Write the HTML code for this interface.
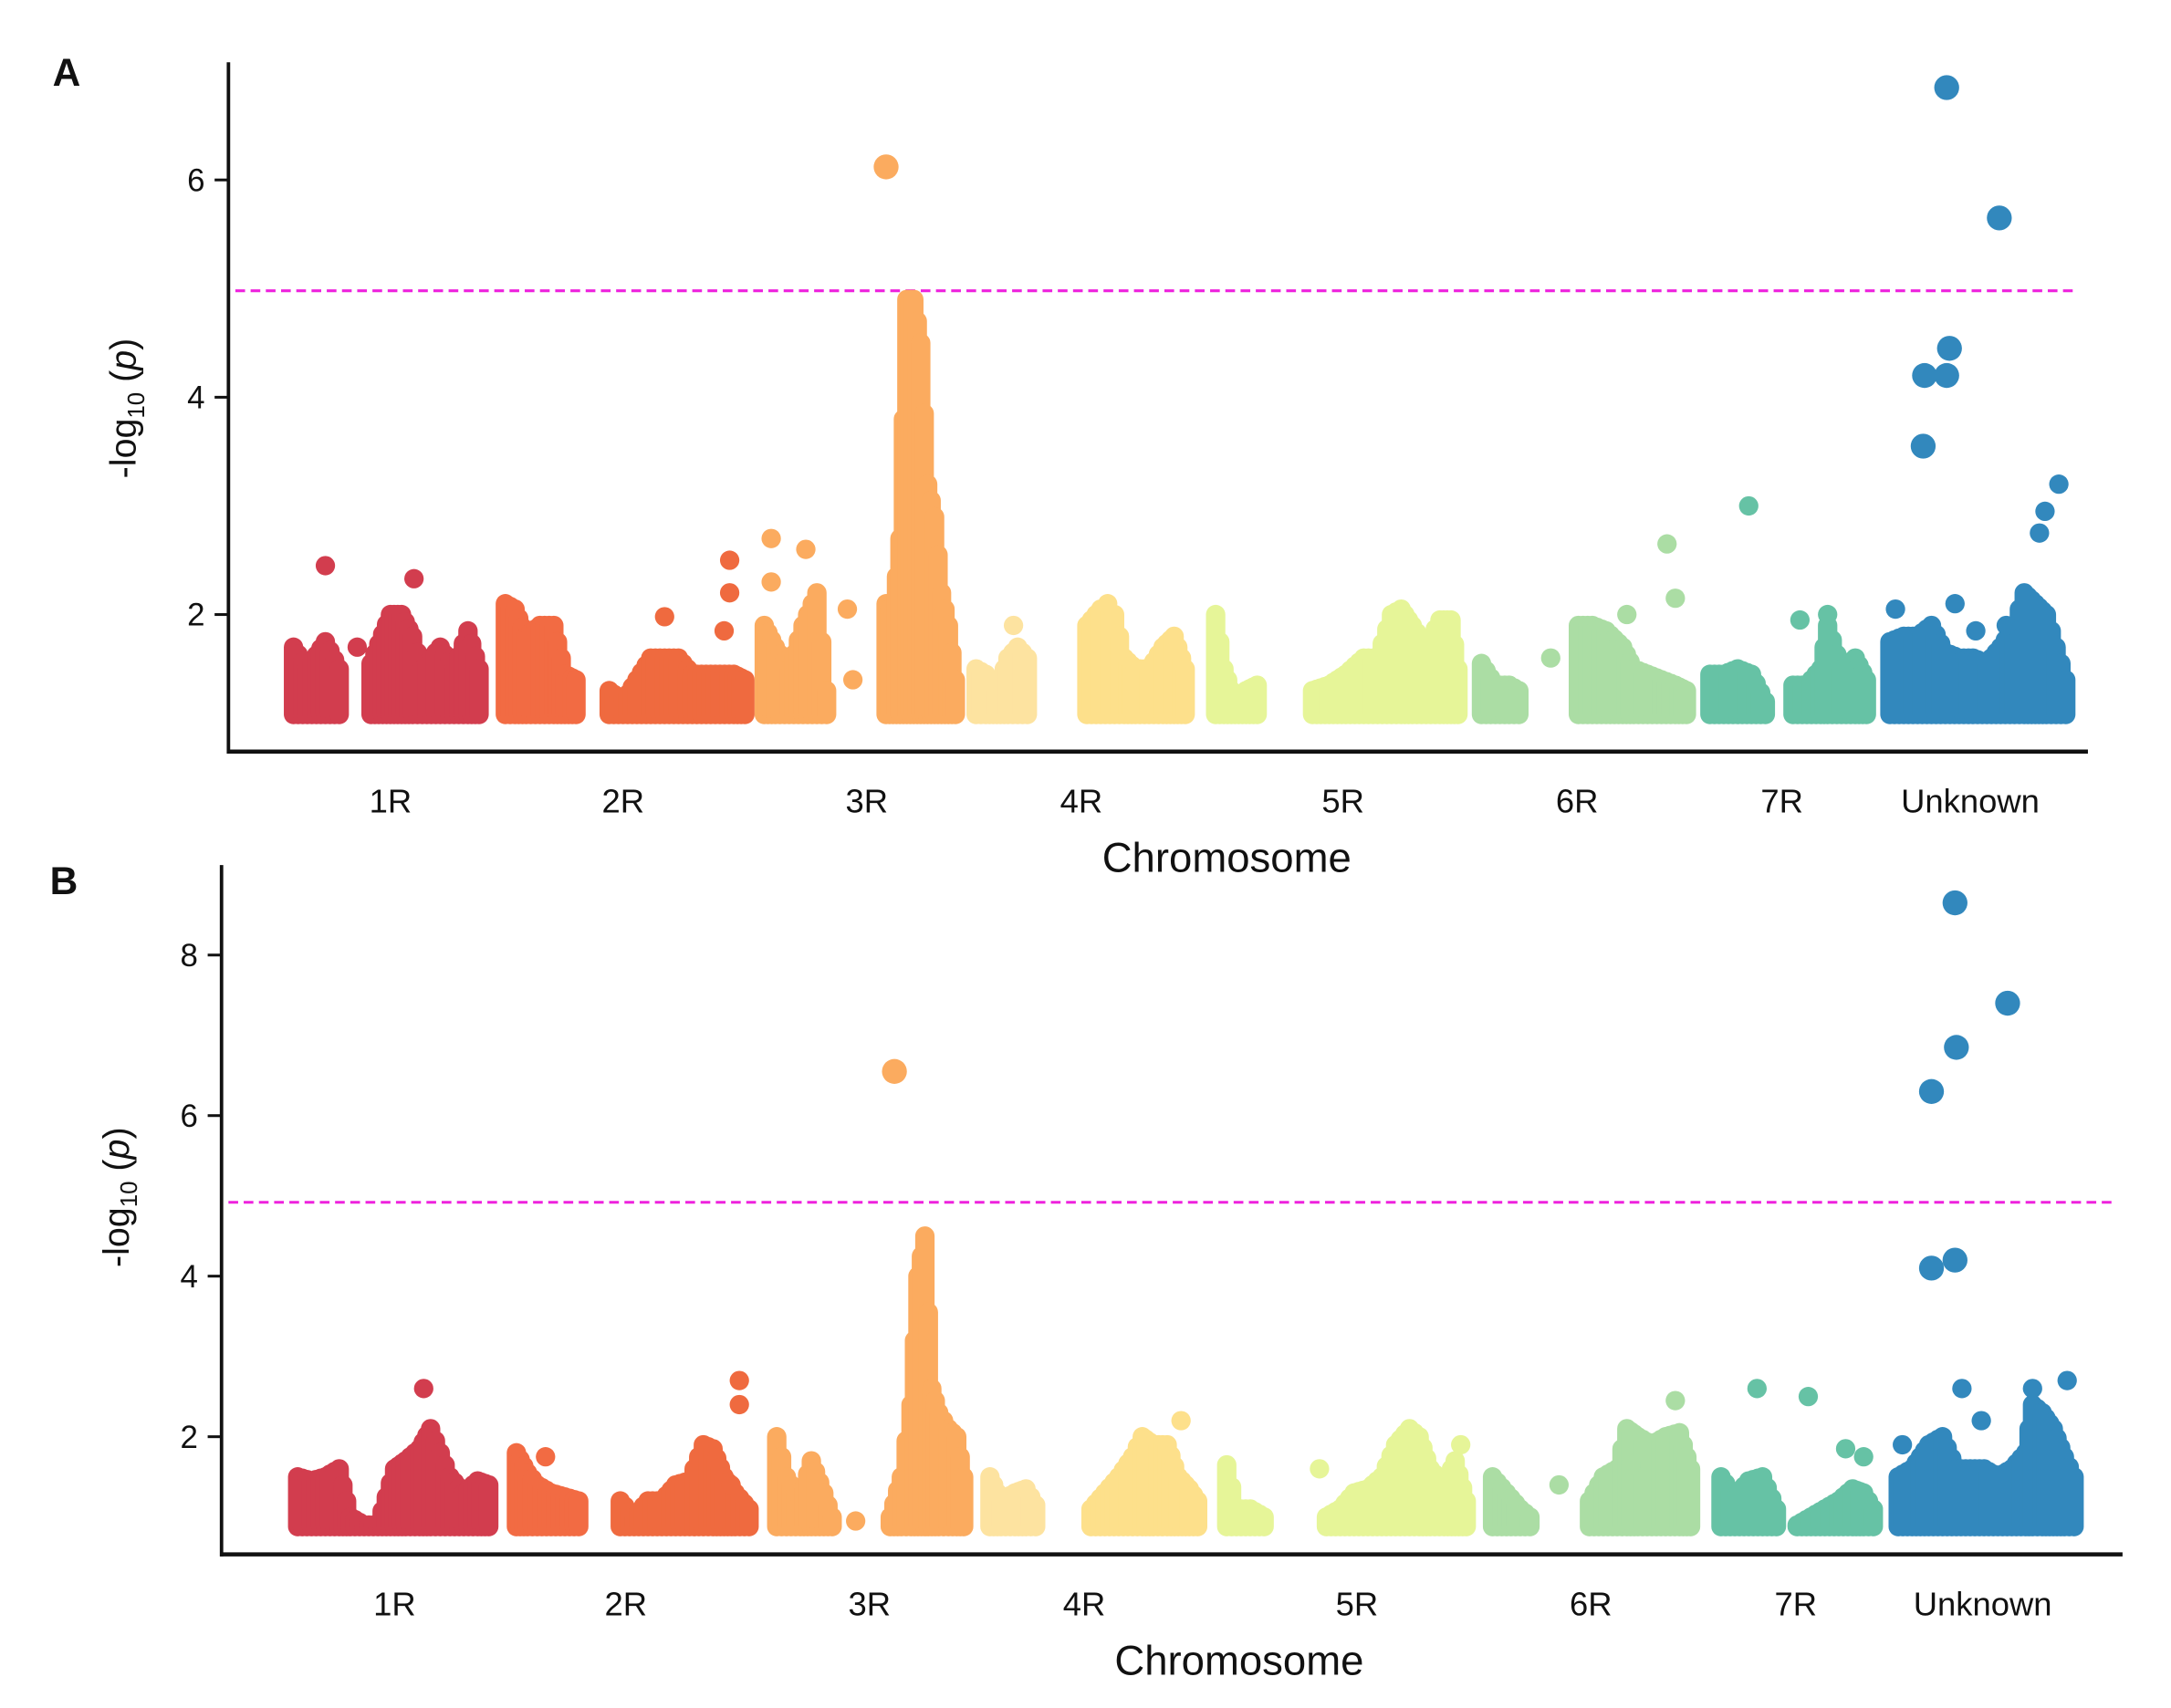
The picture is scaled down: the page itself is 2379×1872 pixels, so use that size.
<!DOCTYPE html>
<html><head><meta charset="utf-8"><title>Manhattan plots</title>
<style>html,body{margin:0;padding:0;background:#fff}svg{display:block}text{font-family:"Liberation Sans",sans-serif;fill:#111}</style>
</head><body>
<svg id="fig" width="2379" height="1872" viewBox="0 0 1568 1234" preserveAspectRatio="none" xmlns="http://www.w3.org/2000/svg">
<rect width="1568" height="1234" fill="#fff"/>
</svg>
<script>
// ---- data ----
const chromLabels = ["1R","2R","3R","4R","5R","6R","7R","Unknown"];
const chromLabelPosA = [282,450,626,781,970,1139,1287,1423];
const chromLabelPosB = [285,452,628,783,980,1149,1297,1432];
const groupColors = ["#d23d4e","#f26b43","#ef6a3f","#fbab5f","#fbab5f","#fde3a0","#fde08b","#e6f598","#e6f598","#abdda4","#abdda4","#66c2a5","#66c2a5","#3288bd"];
const yTicksA = [2,4,6];
const yTicksB = [2,4,6,8];
const thresholdA = 4.98;
const thresholdB = 4.92;
// columns: [position, top -log10 p]
const colsA = [
 [[212,1.7],[222,1.5],[235,1.75],[245,1.5]],
 [[268,1.55],[282,2.0],[290,2.0],[298,1.8],[305,1.5],[318,1.7],[328,1.5],[338,1.85],[346,1.5]],
 [[365,2.1],[372,2.05],[380,1.8],[390,1.9],[400,1.9],[408,1.45],[416,1.4]],
 [[440,1.3],[450,1.2],[460,1.4],[470,1.6],[480,1.6],[490,1.6],[500,1.45],[510,1.45],[520,1.45],[530,1.45],[538,1.4]],
 [[552,1.9],[560,1.7],[570,1.5],[580,1.9],[590,2.2],[597,1.3]],
 [[640,2.1],[645,2.0],[650,2.7],[655,4.9],[660,4.9],[665,4.5],[670,3.2],[675,2.9],[680,2.2],[685,1.9],[690,1.4]],
 [[705,1.5],[712,1.45],[720,1.3],[728,1.6],[735,1.7],[742,1.6]],
 [[785,1.9],[795,2.05],[805,2.0],[812,1.6],[820,1.5],[830,1.5],[840,1.7],[848,1.8],[856,1.5]],
 [[878,2.0],[884,1.5],[892,1.2],[900,1.3],[908,1.35]],
 [[948,1.3],[960,1.35],[972,1.45],[985,1.6],[995,1.6],[1005,2.0],[1012,2.05],[1020,1.9],[1030,1.7],[1040,1.95],[1048,1.95],[1053,1.5]],
 [[1070,1.55],[1080,1.35],[1090,1.35],[1097,1.3]],
 [[1140,1.9],[1150,1.9],[1160,1.85],[1172,1.7],[1180,1.5],[1190,1.45],[1200,1.4],[1210,1.35],[1218,1.3]],
 [[1235,1.45],[1245,1.45],[1255,1.5],[1265,1.45],[1275,1.2]],
 [[1295,1.35],[1305,1.35],[1315,1.5],[1320,1.9],[1330,1.5],[1340,1.6],[1348,1.4]],
 [[1365,1.75],[1375,1.8],[1385,1.8],[1395,1.9],[1405,1.65],[1415,1.6],[1425,1.6],[1435,1.55],[1445,1.7],[1455,1.9],[1462,2.2],[1470,2.1],[1478,2.0],[1485,1.7],[1492,1.4]]
];
const colGroupA = [0,0,1,2,3,4,5,6,7,8,9,10,11,12,13];
// outliers: [position, value, group]
const outA = [[235,2.45,0],[299,2.33,0],[258,1.7,0],[480,1.98,2],[523,1.85,2],[527,2.2,2],[527,2.5,2],[557,2.7,3],[582,2.6,3],[557,2.3,3],[612,2.05,3],[616,1.4,3],[640,6.12,4],[732,1.9,5],[800,2.1,6],[1120,1.6,10],[1175,2.0,10],[1204,2.65,10],[1210,2.15,10],[1263,3.0,11],[1300,1.95,12],[1320,2.0,12],[1406,6.85,13],[1444,5.65,13],[1408,4.45,13],[1390,4.2,13],[1406,4.2,13],[1389,3.55,13],[1487,3.2,13],[1477,2.95,13],[1473,2.75,13],[1369,2.05,13],[1412,2.1,13],[1427,1.85,13],[1449,1.9,13]];
const colsB = [
 [[212,1.5],[222,1.45],[232,1.5],[242,1.6],[250,1.0],[260,0.9],[270,0.9],[282,1.6],[290,1.7],[300,1.85],[308,2.1],[315,1.8],[322,1.5],[332,1.3],[342,1.45],[350,1.4]],
 [[370,1.8],[378,1.55],[385,1.4],[395,1.3],[405,1.25],[415,1.2]],
 [[445,1.2],[455,1.0],[465,1.2],[475,1.2],[485,1.4],[495,1.45],[505,1.9],[512,1.85],[520,1.5],[528,1.3],[538,1.1]],
 [[558,2.0],[565,1.5],[575,1.2],[583,1.7],[592,1.3],[598,1.0]],
 [[640,1.0],[648,1.5],[655,2.4],[660,4.0],[665,4.5],[670,2.6],[675,2.3],[682,2.1],[688,2.0],[693,1.5]],
 [[712,1.5],[720,1.2],[730,1.3],[738,1.35],[745,1.15]],
 [[785,1.1],[795,1.3],[805,1.5],[815,1.75],[822,2.0],[830,1.9],[840,1.9],[848,1.5],[856,1.35],[862,1.2]],
 [[883,1.65],[890,1.1],[900,1.1],[910,1.0]],
 [[955,1.0],[965,1.1],[975,1.3],[985,1.35],[995,1.5],[1005,1.9],[1015,2.1],[1022,2.0],[1030,1.6],[1040,1.4],[1048,1.7],[1056,1.2]],
 [[1075,1.5],[1085,1.3],[1095,1.1],[1102,1.0]],
 [[1145,1.2],[1155,1.5],[1165,1.6],[1172,2.1],[1180,2.0],[1190,1.9],[1200,2.0],[1210,2.05],[1218,1.6]],
 [[1240,1.5],[1250,1.25],[1260,1.45],[1270,1.5],[1280,1.1]],
 [[1295,0.9],[1305,1.0],[1315,1.1],[1325,1.2],[1335,1.35],[1343,1.3],[1350,1.1]],
 [[1368,1.5],[1378,1.6],[1390,1.9],[1400,2.0],[1410,1.6],[1420,1.6],[1430,1.6],[1440,1.5],[1450,1.6],[1460,1.8],[1465,2.4],[1472,2.3],[1480,2.1],[1488,1.75],[1495,1.5]]
];
const colGroupB = [0,1,2,3,4,5,6,7,8,9,10,11,12,13];
const outB = [[303,2.6,0],[391,1.75,1],[531,2.7,2],[531,2.4,2],[525,1.4,2],[615,0.95,3],[643,6.55,4],[850,2.2,6],[950,1.6,8],[1052,1.9,8],[1123,1.4,10],[1207,2.45,10],[1175,1.65,10],[1266,2.6,11],[1303,2.5,12],[1330,1.85,12],[1343,1.75,12],[1409,8.65,13],[1447,7.4,13],[1410,6.85,13],[1392,6.3,13],[1392,4.1,13],[1409,4.2,13],[1414,2.6,13],[1490,2.7,13],[1465,2.6,13],[1428,2.2,13],[1371,1.9,13]];

// ---- drawing ----
const NS = "http://www.w3.org/2000/svg";
const svg = document.getElementById("fig");
function mk(tag, attrs, parent){const e=document.createElementNS(NS,tag);for(const k in attrs)e.setAttribute(k,attrs[k]);(parent||svg).appendChild(e);return e;}

function panel(cfg){
 const g = mk("g",{});
 
 
 const y = v => cfg.y2 - (v-2)*cfg.unit;
 const x = p => cfg.xoff + (p-165)*cfg.xk;
 const th = mk("line",{x1:cfg.ax+5,x2:cfg.xEnd-8,y1:y(cfg.thr),y2:y(cfg.thr),stroke:"#ee22dd","stroke-width":2,"stroke-dasharray":"7,4"},g);
 
 
 const r = 7;
 cfg.cols.forEach((col,ci)=>{
  const color = groupColors[cfg.colGroup[ci]];
  const cg = mk("g",{stroke:color,"stroke-width":2*r,"stroke-linecap":"round"},g);
  
  
  for(let i=0;i<col.length;i++){
   const a=col[i], b=col[i+1]||col[i];
   const steps = Math.max(1, Math.round((b[0]-a[0])/3));
   for(let s=0;s<(i<col.length-1?steps:1);s++){
    const t=s/steps, p=a[0]+(b[0]-a[0])*t, v=a[1]+(b[1]-a[1])*t;
    const ln = mk("line",{x1:x(p),x2:x(p),y1:y(cfg.base),y2:y(v)},cg);
    
    
   }
  }
 });
 cfg.out.forEach(o=>{
  const big = o[1]>3.5;
  const c = mk("circle",{cx:x(o[0]),cy:y(o[1]),r:big?9:7,fill:groupColors[o[2]]},g);
  
  
 });
 const ya = mk("line",{x1:cfg.ax,x2:cfg.ax,y1:cfg.yTop,y2:cfg.axY+1.5,stroke:"#111","stroke-width":2.5},g);
 
 
 const xa = mk("line",{x1:cfg.ax-1,x2:cfg.xEnd,y1:cfg.axY,y2:cfg.axY,stroke:"#111","stroke-width":3},g);
 
 
 cfg.ticks.forEach(t=>{
  const tl = mk("line",{x1:cfg.ax-10,x2:cfg.ax,y1:y(t),y2:y(t),stroke:"#111","stroke-width":2},g);
  
  
  const tx = mk("text",{x:cfg.ax-17,y:y(t)+8,"text-anchor":"end","font-size":23},g);
  tx.textContent = t;
  
  
 });
 chromLabels.forEach((l,i)=>{
  const tx = mk("text",{x:cfg.labelPos[i],y:cfg.axY+44,"text-anchor":"middle","font-size":24},g);
  tx.textContent = l;
  
  
 });
 const xt = mk("text",{x:cfg.xTitleX,y:cfg.axY+87,"text-anchor":"middle","font-size":30},g);
 xt.textContent = "Chromosome";
 
 
 const yt = mk("text",{transform:`translate(${cfg.ax-67},${cfg.yTitleY}) rotate(-90)`,"text-anchor":"middle","font-size":26},g);
 yt.innerHTML = '-log<tspan font-size="17" dy="6">10</tspan><tspan dy="-6"> (</tspan><tspan font-style="italic">p</tspan>)';
 
 
 const pl = mk("text",{x:cfg.letterX,y:cfg.letterY,"font-size":28,"font-weight":"bold"},g);
 pl.textContent = cfg.letter;
 
 
}

panel({name:"panel-a",letter:"A",letterX:38,letterY:62,ax:165,yTop:45,axY:543,xEnd:1508,y2:444,unit:78.5,base:1.08,thr:thresholdA,
 ticks:yTicksA,cols:colsA,colGroup:colGroupA,out:outA,labelPos:chromLabelPosA,xoff:165,xk:1,xTitleX:886,yTitleY:295});
panel({name:"panel-b",letter:"B",letterX:36,letterY:646,ax:160,yTop:625,axY:1123,xEnd:1533,y2:1038,unit:58,base:0.88,thr:thresholdB,
 ticks:yTicksB,cols:colsB,colGroup:colGroupB,out:outB,labelPos:chromLabelPosB,xoff:168,xk:1,xTitleX:895,yTitleY:865});
</script>
</body></html>
